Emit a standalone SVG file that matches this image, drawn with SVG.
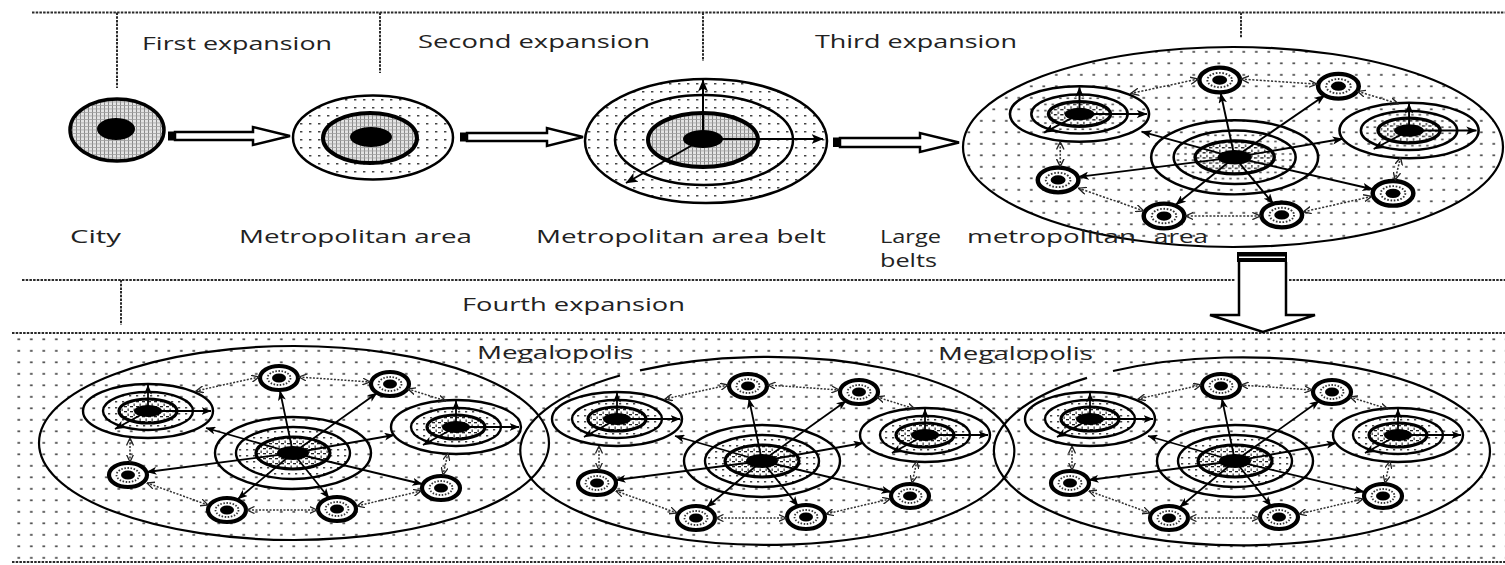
<svg xmlns="http://www.w3.org/2000/svg" width="1505" height="565" viewBox="0 0 1505 565">
<style>
 .dl{fill:none;stroke:#2a2a2a;stroke-width:2;stroke-dasharray:2.5 1.2}
 .lbl{font-family:"Open Sans","Liberation Sans",sans-serif;font-size:18px;fill:#222}
 .ring{fill:none;stroke:#000;stroke-width:2.4}
 .arr{stroke:#000;stroke-width:1.8;fill:none;marker-end:url(#ah)}
 .arr2{stroke:#000;stroke-width:2;fill:none;marker-end:url(#ah2)}
 .darr{stroke:#333;stroke-width:1.5;stroke-dasharray:2 1.5;fill:none;marker-start:url(#oh);marker-end:url(#oh)}
 .hollow{fill:#fff;stroke:#000;stroke-width:2.5;stroke-linejoin:miter}
</style>
<defs>
 <pattern id="bgdots" patternUnits="userSpaceOnUse" width="12.5" height="11.5">
  <rect x="5" y="5" width="2.6" height="1.7" fill="#444"/>
 </pattern>
 <pattern id="dots2" patternUnits="userSpaceOnUse" width="7" height="6">
  <rect width="7" height="6" fill="#fff"/>
  <rect x="2" y="2" width="2.2" height="1.5" fill="#444"/>
 </pattern>
 <pattern id="dots3" patternUnits="userSpaceOnUse" width="9" height="8">
  <rect width="9" height="8" fill="#fff"/>
  <rect x="3" y="3" width="2.4" height="1.5" fill="#444"/>
 </pattern>
 <pattern id="grid" patternUnits="userSpaceOnUse" width="4" height="3.5">
  <rect width="4" height="3.5" fill="#e4e4e4"/>
  <rect width="1" height="3.5" fill="#8a8a8a"/>
  <rect width="4" height="0.8" fill="#a0a0a0"/>
 </pattern>
 <pattern id="orn" patternUnits="userSpaceOnUse" width="6" height="5">
  <rect width="6" height="5" fill="#fff"/>
  <rect width="3" height="1.3" fill="#222"/>
  <rect x="3.5" y="2.5" width="1.3" height="2.5" fill="#444"/>
 </pattern>
 <marker id="ah" viewBox="0 0 10 8" refX="9.5" refY="4" markerWidth="10" markerHeight="8" markerUnits="userSpaceOnUse" orient="auto">
  <path d="M0,0L10,4L0,8L2.5,4Z" fill="#000"/>
 </marker>
 <marker id="ah2" viewBox="0 0 12 10" refX="11.5" refY="5" markerWidth="12" markerHeight="10" markerUnits="userSpaceOnUse" orient="auto">
  <path d="M0,0L12,5L0,10L3,5Z" fill="#000"/>
 </marker>
 <marker id="oh" viewBox="0 0 8 8" refX="7.5" refY="4" markerWidth="8" markerHeight="8" markerUnits="userSpaceOnUse" orient="auto-start-reverse">
  <path d="M0,0.5L7.5,4L0,7.5" fill="none" stroke="#222" stroke-width="1.3"/>
 </marker>
 <g id="sat">
  <ellipse rx="19" ry="12" fill="#fff" stroke="#000" stroke-width="4.2"/>
  <ellipse rx="11.5" ry="7" fill="none" stroke="#333" stroke-width="1.8" stroke-dasharray="1.5 1.6"/>
  <ellipse rx="7" ry="4.5" fill="#000"/>
 </g>
 <g id="hub">
  <ellipse rx="78" ry="36" class="ring"/>
  <ellipse rx="57" ry="26" fill="url(#dots2)" stroke="#000" stroke-width="2.4"/>
  <ellipse rx="37" ry="16" fill="url(#orn)" stroke="#000" stroke-width="3.2"/>
  <ellipse rx="16" ry="7" fill="#000"/>
 </g>
 <g id="sub">
  <ellipse rx="65" ry="27" class="ring"/>
  <ellipse rx="45" ry="19" fill="url(#dots2)" stroke="#000" stroke-width="2.4"/>
  <ellipse rx="29" ry="12" fill="url(#orn)" stroke="#000" stroke-width="3.2"/>
  <ellipse rx="14" ry="6" fill="#000"/>
  <path class="arr" d="M0,0V-26"/>
  <path class="arr" d="M0,0H63"/>
  <path class="arr" d="M0,0L-33,18"/>
 </g>
 <g id="cluster">
  <use href="#hub" x="-5" y="10"/>
  <use href="#sub" x="-150" y="-32"/>
  <use href="#sub" x="158" y="-16"/>
  <use href="#sat" x="-19" y="-65"/>
  <use href="#sat" x="92" y="-59"/>
  <use href="#sat" x="-170" y="32"/>
  <use href="#sat" x="-71" y="67"/>
  <use href="#sat" x="39" y="66"/>
  <use href="#sat" x="143" y="45"/>
  <path class="arr" d="M-5,10L-18,-52"/>
  <path class="arr" d="M-5,10L79,-50"/>
  <path class="arr" d="M-5,10L96,-8"/>
  <path class="arr" d="M-5,10L-92,-15"/>
  <path class="arr" d="M-5,10L-151,29"/>
  <path class="arr" d="M-5,10L-60,56"/>
  <path class="arr" d="M-5,10L31,55"/>
  <path class="arr" d="M-5,10L124,41"/>
  <path class="darr" d="M-39,-66L-102,-52"/>
  <path class="darr" d="M1,-66L72,-61"/>
  <path class="darr" d="M110,-54L148,-42"/>
  <path class="darr" d="M150,10L145,32"/>
  <path class="darr" d="M123,48L59,63"/>
  <path class="darr" d="M19,67L-51,67"/>
  <path class="darr" d="M-90,62L-151,40"/>
  <path class="darr" d="M-168,19L-168,-5"/>
 </g>
</defs>

<rect width="1505" height="565" fill="#fff"/>

<!-- frame lines -->
<g id="frame">
 <path class="dl" d="M32,12.5H1505"/>
 <path class="dl" d="M117,12.5V88"/>
 <path class="dl" d="M380,12.5V73"/>
 <path class="dl" d="M703,12.5V61"/>
 <path class="dl" d="M1241,12.5V38"/>
 <path class="dl" d="M22,280H1235M1289,280H1505"/>
 <path class="dl" d="M121,280V325"/>
 <rect x="12" y="333" width="1493" height="229" fill="url(#bgdots)"/>
 <path class="dl" d="M12,333H1505"/>
 <path class="dl" d="M12,562H1505"/>
</g>

<!-- stage headings -->
<g id="headings" class="lbl">
 <text x="142" y="50" textLength="190" lengthAdjust="spacingAndGlyphs">First expansion</text>
 <text x="418" y="48" textLength="232" lengthAdjust="spacingAndGlyphs">Second expansion</text>
 <text x="815" y="48" textLength="202" lengthAdjust="spacingAndGlyphs">Third expansion</text>
 <text x="462" y="311" textLength="223" lengthAdjust="spacingAndGlyphs">Fourth expansion</text>
</g>

<!-- City -->
<g id="city">
 <ellipse cx="117" cy="130" rx="47" ry="31" fill="url(#grid)" stroke="#000" stroke-width="3.5"/>
 <ellipse cx="116" cy="129" rx="19" ry="11" fill="#000"/>
 <text class="lbl" x="70" y="243" textLength="51" lengthAdjust="spacingAndGlyphs">City</text>
</g>

<!-- Metropolitan area -->
<g id="metro">
 <ellipse cx="373" cy="137.5" rx="80" ry="42" fill="url(#dots3)" stroke="#000" stroke-width="2.5"/>
 <ellipse cx="370" cy="138" rx="47" ry="25" fill="url(#grid)" stroke="#000" stroke-width="4"/>
 <ellipse cx="371" cy="137" rx="21" ry="10" fill="#000"/>
 <text class="lbl" x="239" y="243" textLength="233" lengthAdjust="spacingAndGlyphs">Metropolitan area</text>
</g>

<!-- Metropolitan area belt -->
<g id="belt">
 <ellipse cx="706" cy="141" rx="121" ry="62" fill="url(#dots3)" stroke="#000" stroke-width="2.5"/>
 <ellipse cx="704" cy="140" rx="89" ry="45" fill="url(#dots3)" stroke="#000" stroke-width="2.5"/>
 <ellipse cx="703" cy="140" rx="55" ry="27" fill="url(#grid)" stroke="#000" stroke-width="4"/>
 <ellipse cx="703" cy="139" rx="20" ry="9" fill="#000"/>
 <path class="arr2" d="M703,139V80"/>
 <path class="arr2" d="M703,139H823"/>
 <path class="arr2" d="M703,139L626,183"/>
 <text class="lbl" x="536" y="243" textLength="290" lengthAdjust="spacingAndGlyphs">Metropolitan area belt</text>
</g>

<!-- Large metropolitan area belts -->
<g id="large">
 <ellipse cx="1233" cy="147" rx="270" ry="100" fill="url(#bgdots)" stroke="#000" stroke-width="2.2"/>
 <use href="#cluster" transform="translate(1240,147) scale(1.07,1.03)"/>
 <text class="lbl"><tspan x="880" y="243" textLength="61" lengthAdjust="spacingAndGlyphs">Large</tspan><tspan x="967" y="243" textLength="169" lengthAdjust="spacingAndGlyphs">metropolitan</tspan><tspan x="1154" y="243" textLength="54" lengthAdjust="spacingAndGlyphs">area</tspan><tspan x="880" y="267" textLength="57" lengthAdjust="spacingAndGlyphs">belts</tspan></text>
</g>

<!-- stage arrows -->
<g id="connectors">
 <rect x="168" y="131.5" width="7" height="9" fill="#000"/>
 <path class="hollow" d="M175,132H253V127L290,136L253,145V140H175Z"/>
 <rect x="460" y="132.5" width="7" height="9" fill="#000"/>
 <path class="hollow" d="M467,133H547V128L583,137L547,146V141H467Z"/>
 <rect x="833" y="137.5" width="7" height="9.5" fill="#000"/>
 <path class="hollow" d="M840,138H920V133L959,142.5L920,152V147H840Z"/>
 <rect x="1237" y="252" width="50" height="10" fill="#000"/>
 <rect x="1239" y="256.5" width="46" height="1.5" fill="#fff"/>
 <path class="hollow" d="M1239,262V315H1210L1263,332L1315,315H1286V262" stroke-width="3"/>
</g>

<!-- Megalopolis -->
<g id="mega1">
 <ellipse cx="294" cy="443" rx="255" ry="97" fill="none" stroke="#000" stroke-width="2.2"/>
 <use href="#cluster" transform="translate(298,443)"/>
</g>
<g id="mega2">
 <path d="M640,370.4A247 94 0 1 1 620,375.5" fill="none" stroke="#000" stroke-width="2.2"/>
 <use href="#cluster" transform="translate(767,451)"/>
</g>
<g id="mega3">
 <path d="M1113,371A248 94 0 1 1 1087,377.9" fill="none" stroke="#000" stroke-width="2.2"/>
 <use href="#cluster" transform="translate(1240,451)"/>
</g>
<g id="mega-labels" class="lbl">
 <text x="477" y="359" textLength="156" lengthAdjust="spacingAndGlyphs">Megalopolis</text>
 <text x="938" y="360" textLength="155" lengthAdjust="spacingAndGlyphs">Megalopolis</text>
</g>
</svg>
